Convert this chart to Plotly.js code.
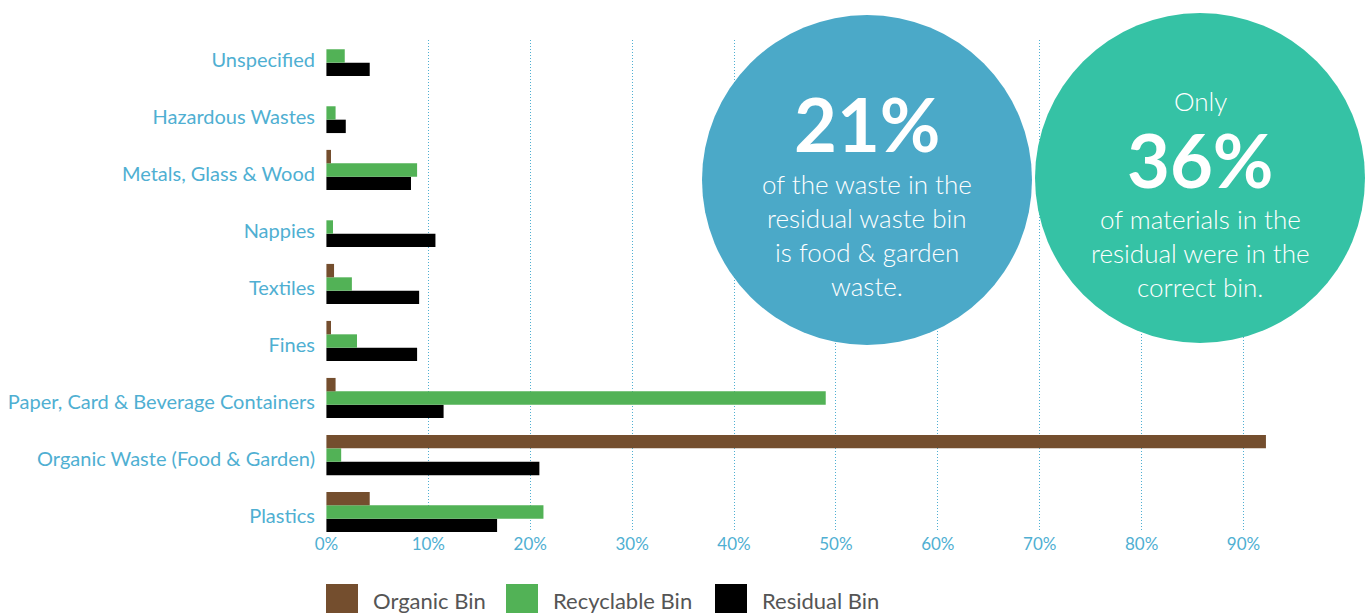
<!DOCTYPE html>
<html>
<head>
<meta charset="utf-8">
<script src="https://cdn.plot.ly/plotly-3.0.1.min.js"></script>
<style>html,body{margin:0;padding:0;background:#fff;}#chart{width:1370px;height:613px;}</style>
</head>
<body>
<div id="chart"></div>
<script>
// Categories listed bottom -> top (Plotly places the first category at the bottom)
const categories = [
  "Plastics",
  "Organic Waste (Food & Garden)",
  "Paper, Card & Beverage Containers",
  "Fines",
  "Textiles",
  "Nappies",
  "Metals, Glass & Wood",
  "Hazardous Wastes",
  "Unspecified"
];
const organicBin    = [4.25, 92.2, 0.9, 0.45, 0.75, 0,    0.45, 0,   0];
const recyclableBin = [21.3, 1.45, 49.0, 3.0, 2.5,  0.65, 8.9,  0.9, 1.8];
const residualBin   = [16.75, 20.9, 11.5, 8.9, 9.1, 10.7, 8.3,  1.9, 4.25];
const seriesNames = ["Organic Bin", "Recyclable Bin", "Residual Bin"];
const xTickVals = [0, 10, 20, 30, 40, 50, 60, 70, 80, 90];
const xTickText = xTickVals.map(v => v + "%");

const colors = {organic: "#744E2E", recyclable: "#52B256", residual: "#000000"};
const FONT = "Lato, 'Open Sans', sans-serif";
const labelBlue = "#4FAFD2";

// plot area geometry (pixels)
const W = 1370, H = 613, L = 326, R = 101, T = 40, B = 81;
const PW = W - L - R, PH = H - T - B;
const px = x => (x - L) / PW;
const py = y => (H - B - y) / PH;

// bar thickness and group placement (category units)
const bw = 0.235, shift = 0.07;

// Residual first so it sits at the bottom of each group
const traces = [
  {type: "bar", orientation: "h", y: categories, x: residualBin, name: seriesNames[2],
   width: bw, offset: -1.5 * bw + shift, marker: {color: colors.residual}, hoverinfo: "x+name"},
  {type: "bar", orientation: "h", y: categories, x: recyclableBin, name: seriesNames[1],
   width: bw, offset: -0.5 * bw + shift, marker: {color: colors.recyclable}, hoverinfo: "x+name"},
  {type: "bar", orientation: "h", y: categories, x: organicBin, name: seriesNames[0],
   width: bw, offset: 0.5 * bw + shift, marker: {color: colors.organic}, hoverinfo: "x+name"}
];

const shapes = [];
const annotations = [];

// Info circles
function circle(cx, cy, r, color) {
  shapes.push({type: "circle", xref: "paper", yref: "paper",
    xsizemode: "pixel", ysizemode: "pixel", xanchor: px(cx), yanchor: py(cy),
    x0: -r, x1: r, y0: -r, y1: r, fillcolor: color, line: {width: 0}, layer: "above"});
}
circle(867, 180, 165, "#4BA9C8");
circle(1200, 178, 165, "#35C2A5");

// one text line, placed by its baseline (pixels)
function line(text, cx, baseline, size, bold) {
  annotations.push({xref: "paper", yref: "paper", x: px(cx), y: py(baseline + 0.213 * size),
    xanchor: "center", yanchor: "bottom", showarrow: false, borderpad: 0,
    text: bold ? "<b>" + text + "</b>" : text,
    font: {family: FONT, size: size, color: "#ffffff", weight: bold ? 900 : 300}});
}
line("21%", 867, 153, 74, true);
line("of the waste in the", 867, 195, 26, false);
line("residual waste bin", 867, 229, 26, false);
line("is food &amp; garden", 867, 263, 26, false);
line("waste.", 867, 297, 26, false);

line("Only", 1200, 112, 26, false);
line("36%", 1200, 189, 74, true);
line("of materials in the", 1200, 230, 26, false);
line("residual were in the", 1200, 264, 26, false);
line("correct bin.", 1200, 298, 26, false);

// Custom legend (large square swatches)
const legendItems = [
  {name: seriesNames[0], color: colors.organic, x: 326},
  {name: seriesNames[1], color: colors.recyclable, x: 506},
  {name: seriesNames[2], color: colors.residual, x: 715}
];
legendItems.forEach(it => {
  shapes.push({type: "rect", xref: "paper", yref: "paper",
    x0: px(it.x), x1: px(it.x + 32), y0: py(614), y1: py(584),
    fillcolor: it.color, line: {width: 0}});
  annotations.push({xref: "paper", yref: "paper", x: px(it.x + 45), y: py(600),
    xanchor: "left", yanchor: "middle", showarrow: false, text: it.name,
    font: {family: FONT, size: 22, color: "#555555"}});
});

const layout = {
  width: W, height: H,
  margin: {l: L, r: R, t: T, b: B, pad: 0},
  paper_bgcolor: "#ffffff", plot_bgcolor: "#ffffff",
  barmode: "group", bargap: 0.3, bargroupgap: 0,
  showlegend: false,
  font: {family: FONT},
  xaxis: {
    range: [-0.04, 92.5], tickmode: "array", tickvals: xTickVals, ticktext: xTickText,
    showgrid: true, gridcolor: "#4FAFD2", griddash: "1px,2px", gridwidth: 1,
    zeroline: false, showline: false, ticks: "",
    tickfont: {family: FONT, size: 17, color: labelBlue}
  },
  yaxis: {
    type: "category", categoryorder: "array", categoryarray: categories,
    range: [-0.28, 8.35], showgrid: false, zeroline: false, showline: false,
    ticks: "outside", ticklen: 6, tickcolor: "rgba(0,0,0,0)",
    tickfont: {family: FONT, size: 20, color: labelBlue}
  },
  shapes: shapes,
  annotations: annotations
};

Plotly.newPlot("chart", traces, layout, {displayModeBar: false, staticPlot: true});
</script>
</body>
</html>
